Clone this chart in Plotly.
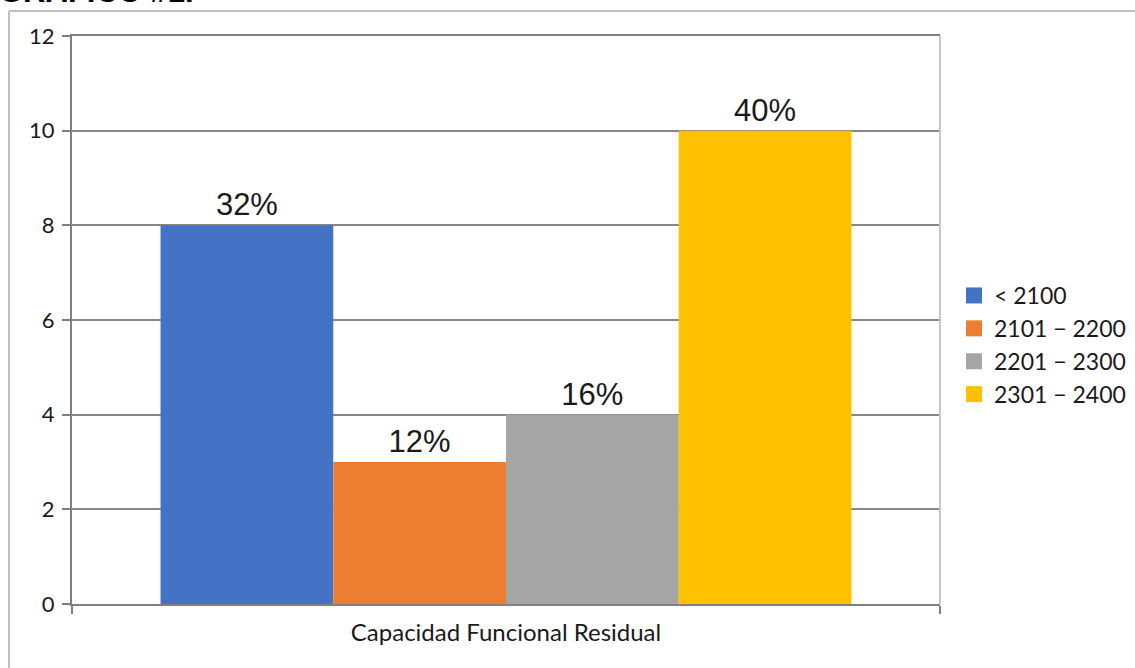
import plotly.graph_objects as go

categories = ["Capacidad Funcional Residual"]
series_names = ["< 2100", "2101 \u2212 2200", "2201 \u2212 2300", "2301 \u2212 2400"]
series_values = [8, 3, 4, 10]
series_labels = ["32%", "12%", "16%", "40%"]
series_colors = ["#4472C4", "#ED7D31", "#A5A5A5", "#FFC000"]
y_ticks = [0, 2, 4, 6, 8, 10, 12]

W, H = 1135, 668
L, R, T, B = 72, 940, 36, 604

fig = go.Figure()
for i, (name, val, lab, col) in enumerate(zip(series_names, series_values, series_labels, series_colors)):
    fig.add_trace(go.Bar(
        x=categories, y=[val], name=name, marker=dict(color=col, line=dict(width=0)),
        text=[lab], textposition="outside", cliponaxis=False,
        textfont=dict(family="Liberation Sans, Arial", size=31, color="#1a1a1a"),
        showlegend=False,
    ))
# legend entries (square swatches)
for name, col in zip(series_names, series_colors):
    fig.add_trace(go.Scatter(
        x=[None], y=[None], mode="markers", name=name,
        marker=dict(symbol="square", size=16, color=col),
        showlegend=True,
    ))

def px_x(p):
    return (p - L) / (R - L)

def px_y(p):
    return (B - p) / (B - T)

tick_font = dict(family="Lato, Open Sans", size=22, color="#1a1a1a")

fig.update_layout(
    width=W, height=H,
    margin=dict(l=L, r=W - R, t=T, b=H - B, pad=0, autoexpand=False),
    paper_bgcolor="white", plot_bgcolor="white",
    barmode="group", bargap=0.204, bargroupgap=0,
    showlegend=True,
    legend=dict(
        x=px_x(954), y=px_y(274), xanchor="left", yanchor="top",
        font=dict(family="Lato, Open Sans", size=23, color="#1a1a1a"),
        itemwidth=30, bgcolor="rgba(0,0,0,0)",
    ),
    xaxis=dict(
        type="category", tickson="boundaries", ticks="outside", ticklen=8,
        tickcolor="#808080", tickwidth=1.5,
        showline=True, linecolor="#808080", linewidth=2, mirror=True,
        showgrid=False,
        tickfont=dict(family="Lato, Open Sans", size=24, color="#1a1a1a"),
        ticklabelstandoff=6,
    ),
    yaxis=dict(
        range=[0, 12], tickvals=y_ticks, ticks="outside", ticklen=8,
        tickcolor="#808080", tickwidth=1.5,
        showline=True, linecolor="#808080", linewidth=2,
        showgrid=True, gridcolor="#888888", gridwidth=2,
        zeroline=False,
        tickfont=tick_font,
        ticklabelstandoff=3,
    ),
    shapes=[
        # right border of plot area
        dict(type="line", xref="paper", yref="paper", x0=1, x1=1, y0=0, y1=1,
             line=dict(color="#c8c8c8", width=2)),
        # outer chart frame (left and top)
        dict(type="line", xref="paper", yref="paper", x0=px_x(9), x1=px_x(9), y0=px_y(11), y1=px_y(700),
             line=dict(color="#c0c0c0", width=2)),
        dict(type="line", xref="paper", yref="paper", x0=px_x(9), x1=px_x(1200), y0=px_y(11), y1=px_y(11),
             line=dict(color="#c0c0c0", width=2)),
    ],
    annotations=[
        dict(text="<b>GRAFICO #1.</b>", xref="paper", yref="paper", x=px_x(-3), y=px_y(11),
             xanchor="left", yanchor="bottom", showarrow=False,
             font=dict(family="Liberation Sans, Arial", size=31, color="black")),
    ],
)

fig.write_html("out.html")
